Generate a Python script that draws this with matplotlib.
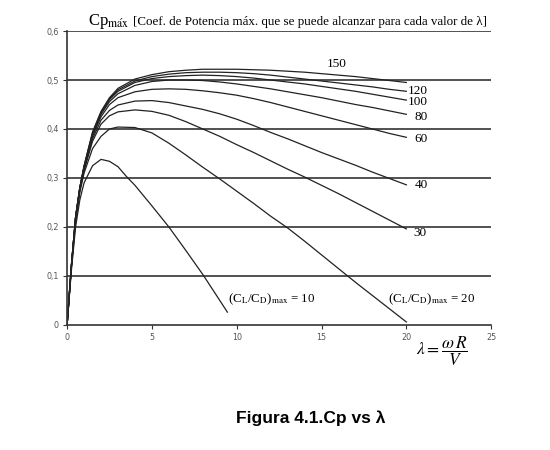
import matplotlib
matplotlib.use("Agg")
import matplotlib.pyplot as plt

plt.rcParams['mathtext.fontset'] = 'stix'

# lambda grid shared by most curves
lam = [0, 0.25, 0.5, 0.75, 1, 1.5, 2, 2.5, 3, 4, 5, 6, 7, 8, 9, 10,
       11, 12, 13, 14, 15, 16, 17, 18, 19, 20]

# (CL/CD)max = 10 has its own grid (stops at ~9.5)
lam10 = [0, 0.25, 0.5, 0.75, 1, 1.5, 2, 2.5, 3, 3.5, 4, 5, 6, 7, 8, 9, 9.45]
cp10 = [0, 0.11, 0.2, 0.255, 0.29, 0.325, 0.338, 0.334, 0.323, 0.303, 0.285,
        0.243, 0.2, 0.152, 0.103, 0.05, 0.026]

cp20 = [0, 0.115, 0.21, 0.27, 0.31, 0.36, 0.385, 0.4, 0.404, 0.403, 0.392,
        0.371, 0.347, 0.322, 0.298, 0.273, 0.248, 0.222, 0.198, 0.171,
        0.143, 0.115, 0.087, 0.06, 0.033, 0.006]
cp30 = [0, 0.118, 0.215, 0.275, 0.315, 0.375, 0.41, 0.427, 0.435, 0.439,
        0.436, 0.428, 0.415, 0.4, 0.385, 0.368, 0.352, 0.335, 0.318, 0.302,
        0.285, 0.268, 0.25, 0.232, 0.214, 0.196]
cp40 = [0, 0.12, 0.218, 0.278, 0.318, 0.38, 0.418, 0.438, 0.449, 0.457,
        0.458, 0.454, 0.447, 0.44, 0.431, 0.42, 0.407, 0.393, 0.38, 0.366,
        0.352, 0.339, 0.326, 0.312, 0.299, 0.286]
cp60 = [0, 0.12, 0.22, 0.28, 0.32, 0.385, 0.425, 0.45, 0.464, 0.476, 0.481,
        0.482, 0.481, 0.478, 0.474, 0.469, 0.462, 0.454, 0.445, 0.436, 0.427,
        0.418, 0.409, 0.4, 0.391, 0.383]
cp80 = [0, 0.12, 0.22, 0.28, 0.322, 0.388, 0.43, 0.456, 0.472, 0.489, 0.497,
        0.5, 0.5, 0.499, 0.496, 0.492, 0.487, 0.482, 0.476, 0.47, 0.464,
        0.457, 0.45, 0.444, 0.437, 0.43]
cp100 = [0, 0.12, 0.22, 0.28, 0.323, 0.39, 0.432, 0.46, 0.477, 0.495, 0.503,
         0.507, 0.509, 0.51, 0.509, 0.507, 0.504, 0.5, 0.496, 0.492, 0.487,
         0.482, 0.477, 0.471, 0.465, 0.459]
cp120 = [0, 0.12, 0.22, 0.28, 0.324, 0.392, 0.434, 0.462, 0.48, 0.498, 0.507,
         0.512, 0.515, 0.516, 0.516, 0.515, 0.513, 0.51, 0.506, 0.502, 0.498,
         0.494, 0.49, 0.486, 0.481, 0.477]
cp150 = [0, 0.12, 0.22, 0.28, 0.325, 0.394, 0.436, 0.464, 0.483, 0.502, 0.511,
         0.517, 0.52, 0.522, 0.522, 0.522, 0.521, 0.52, 0.518, 0.516, 0.513,
         0.51, 0.507, 0.503, 0.499, 0.495]

right_labels = ['120', '100', '80', '60', '40', '30']
right_label_y = [0.478, 0.455, 0.424, 0.38, 0.286, 0.188]
right_label_x = [20.1, 20.1, 20.5, 20.5, 20.5, 20.4]

serif = 'Liberation Serif'
fig = plt.figure(figsize=(5.5, 4.5), dpi=100)
ax = fig.add_axes([0.122, 0.278, 0.771, 0.653])

for yv in [0.1, 0.2, 0.3, 0.4, 0.5, 0.6]:
    ax.axhline(yv, color='#333333', lw=1.2, zorder=1)

lc = '#222222'
ax.plot(lam10, cp10, color=lc, lw=0.9)
for cp in [cp20, cp30, cp40, cp60, cp80, cp100, cp120, cp150]:
    ax.plot(lam, cp, color=lc, lw=0.9)

ax.set_xlim(0, 25)
ax.set_ylim(0, 0.6)
ax.set_xticks([0, 5, 10, 15, 20, 25])
ax.set_xticklabels(['0', '5', '10', '15', '20', '25'])
ax.set_yticks([0, 0.1, 0.2, 0.3, 0.4, 0.5, 0.6])
ax.set_yticklabels(['0', '0,1', '0,2', '0,3', '0,4', '0,5', '0,6'])
ax.tick_params(labelsize=5.8, labelcolor='#555555', color='#333333',
               length=3, width=0.8, pad=3)
for s in ['top', 'right']:
    ax.spines[s].set_visible(False)
ax.spines['left'].set_color('#333333')
ax.spines['bottom'].set_color('#333333')
ax.spines['left'].set_linewidth(1.2)
ax.spines['bottom'].set_linewidth(1.2)

# curve labels
ax.text(15.9, 0.521, '150', family=serif, fontsize=9.5, ha='center', va='bottom')
for t, x, y in zip(right_labels, right_label_x, right_label_y):
    ax.text(x, y, t, family=serif, fontsize=9.5, ha='left', va='center')

ax.text(9.5, 0.052, r'(C$_{\mathrm{L}}$/C$_{\mathrm{D}}$)$_{\mathrm{max}}$ = 10',
        family=serif, fontsize=9.3, ha='left', va='center')
ax.text(18.9, 0.052, r'(C$_{\mathrm{L}}$/C$_{\mathrm{D}}$)$_{\mathrm{max}}$ = 20',
        family=serif, fontsize=9.3, ha='left', va='center')

ax.text(22.1, -0.054, r'$\lambda = \dfrac{\omega\, R}{V}$', fontsize=12.5,
        ha='center', va='center', clip_on=False)

# title above plot
fig.text(0.16, 0.952, r'Cp$_{\mathrm{m\acute{a}x}}$', family=serif,
         fontsize=12, ha='left', va='center')
fig.text(0.242, 0.952,
         '[Coef. de Potencia máx. que se puede alcanzar para cada valor de λ]',
         family=serif, fontsize=9.4, ha='left', va='center')

fig.text(0.564, 0.071, 'Figura 4.1.Cp vs λ', family='Liberation Sans',
         fontsize=12.5, fontweight='bold', ha='center', va='center')

fig.savefig('out.png', dpi=100)
